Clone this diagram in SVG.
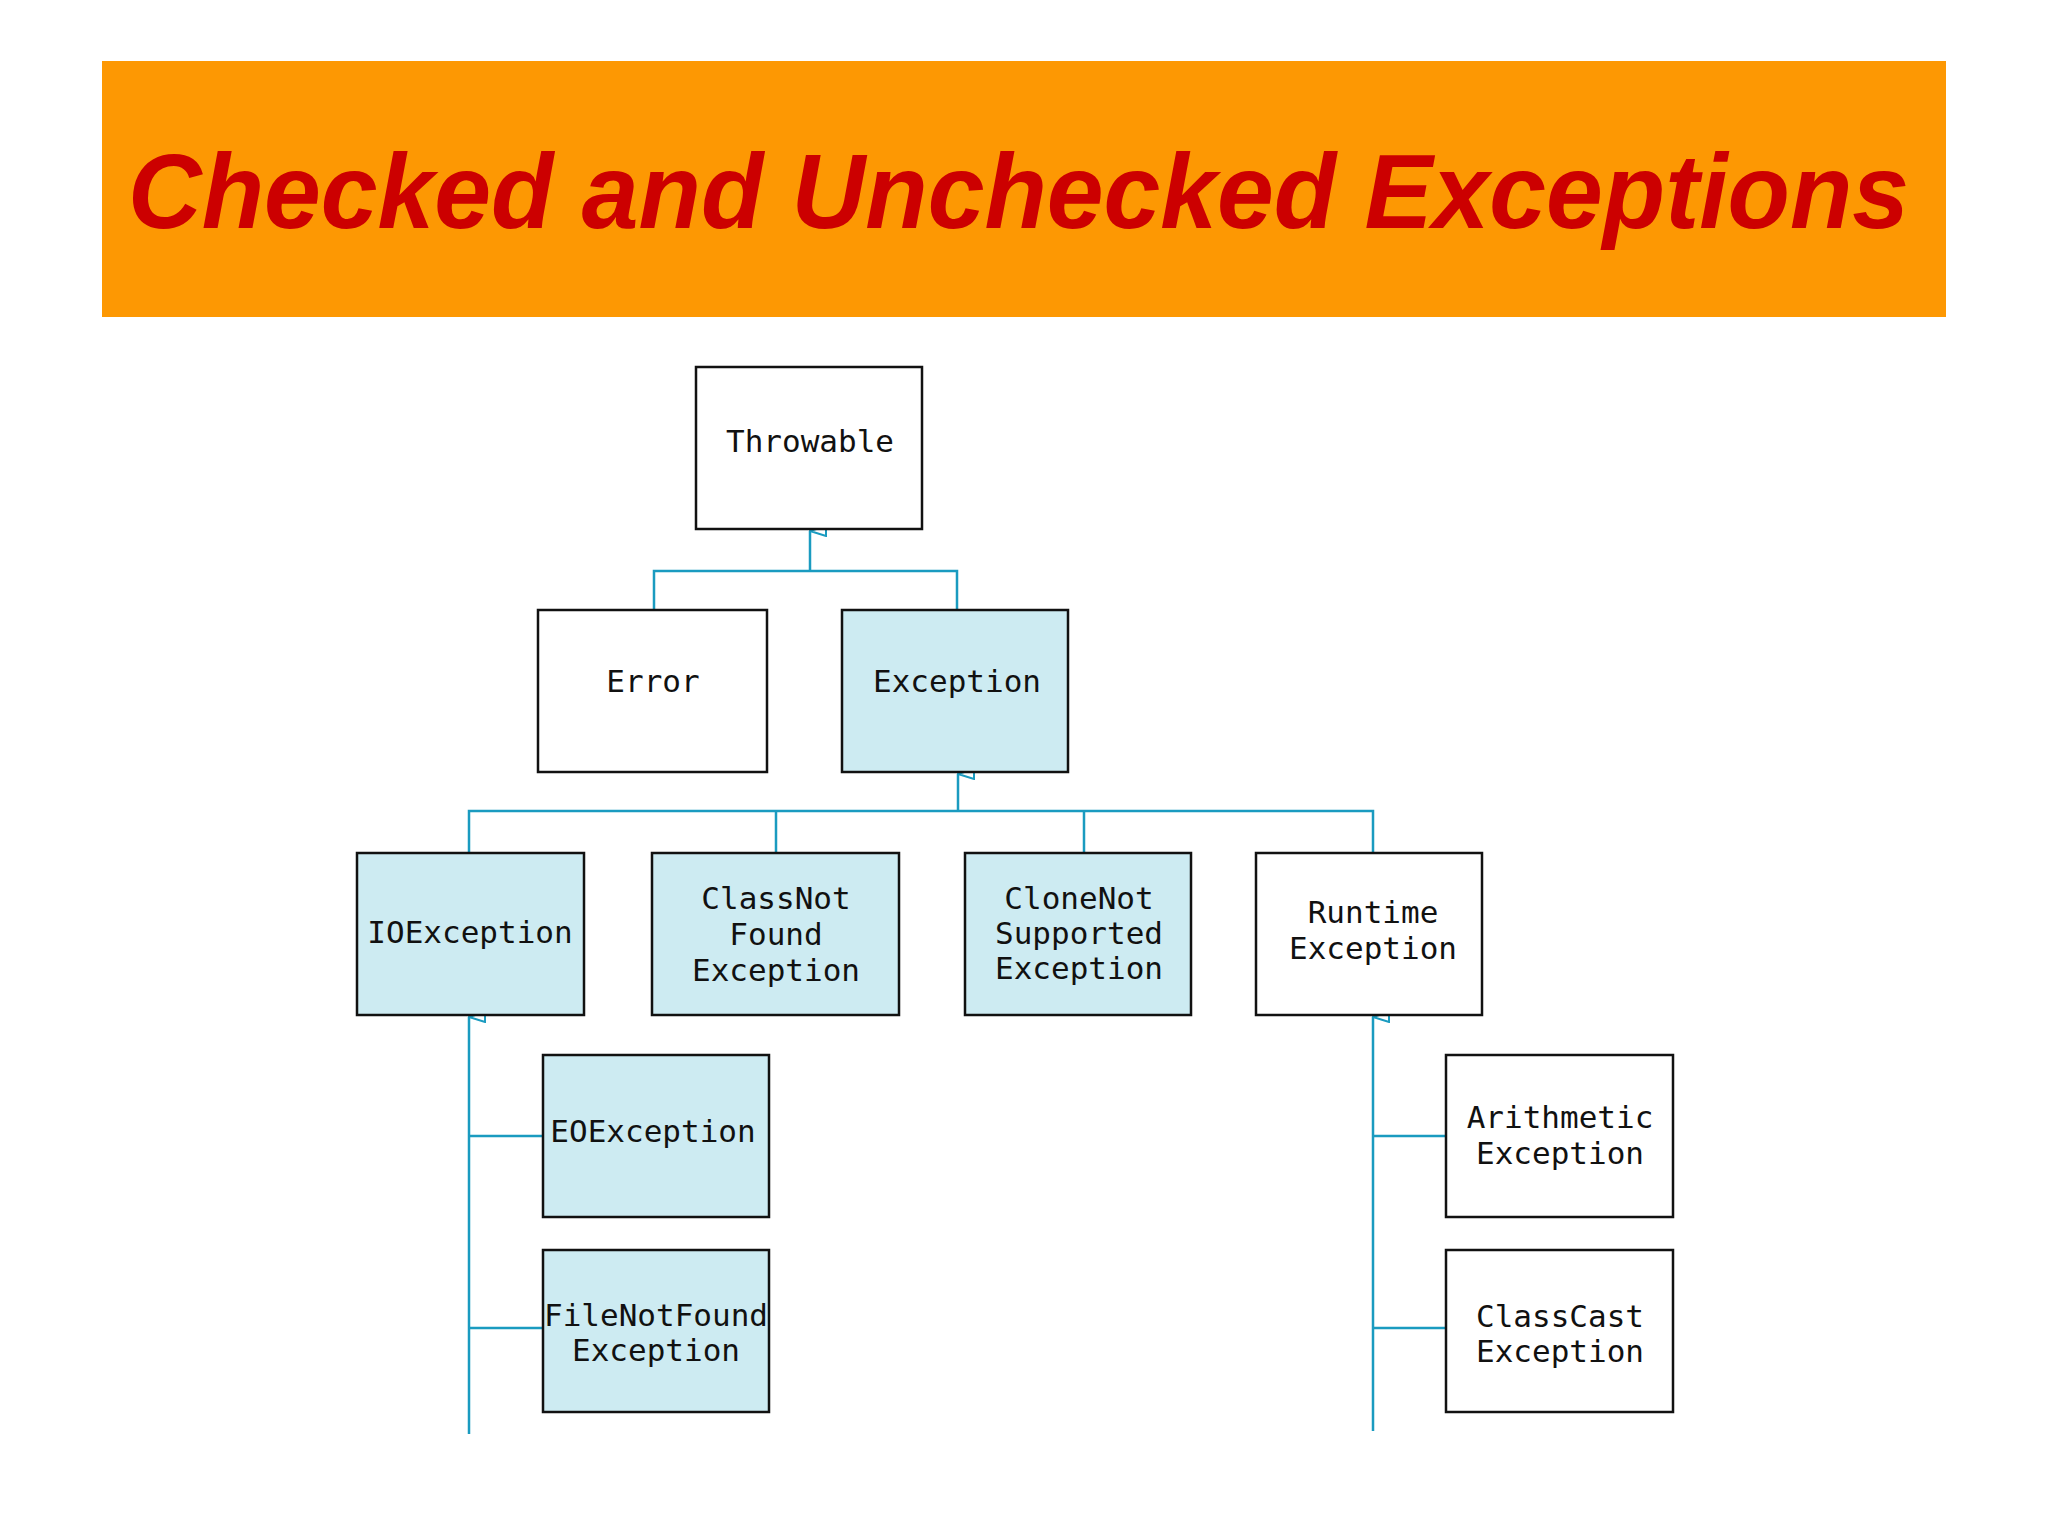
<svg xmlns="http://www.w3.org/2000/svg" width="2048" height="1536" viewBox="0 0 2048 1536">
<style>
.b{stroke:#111;stroke-width:2.5;fill:#fff}
.c{fill:#cdebf2}
.t{font-family:"DejaVu Sans Mono",monospace;font-size:31px;fill:#111;text-anchor:middle}
.l{stroke:#1a9bc0;stroke-width:2.5;fill:none}
</style>
<defs>
<marker id="a" viewBox="0 0 12 18" refX="6" refY="1" markerWidth="12" markerHeight="18" markerUnits="userSpaceOnUse" orient="auto-start-reverse">
<path d="M6,1 L11,17 L1,17 Z" fill="#fff" stroke="#1a9bc0" stroke-width="2"/>
</marker>
</defs>
<rect width="2048" height="1536" fill="#fff"/>
<rect x="102" y="61" width="1844" height="256" fill="#fd9803"/>
<text x="128" y="228" font-family="Liberation Sans,Arial,sans-serif" font-weight="bold" font-style="italic" font-size="106" fill="#cc0000" textLength="1781" lengthAdjust="spacingAndGlyphs">Checked and Unchecked Exceptions</text>
<g id="connectors">
<path class="l" d="M810,571 V531" marker-end="url(#a)"/>
<path class="l" d="M654,610 V571 H957 V610"/>
<path class="l" d="M958,811 V774" marker-end="url(#a)"/>
<path class="l" d="M469,853 V811 H1373 V853 M776,811 V853 M1084,811 V853"/>
<path class="l" d="M469,1434 V1017" marker-end="url(#a)"/>
<path class="l" d="M469,1136 H543 M469,1328 H543"/>
<path class="l" d="M1373,1431 V1017" marker-end="url(#a)"/>
<path class="l" d="M1373,1136 H1446 M1373,1328 H1446"/>
</g>
<g id="throwable"><rect class="b" x="696" y="367" width="226" height="162"/><text class="t" x="810" y="452">Throwable</text></g>
<g id="error"><rect class="b" x="538" y="610" width="229" height="162"/><text class="t" x="653" y="692">Error</text></g>
<g id="exception"><rect class="b c" x="842" y="610" width="226" height="162"/><text class="t" x="957" y="692">Exception</text></g>
<g id="ioexception"><rect class="b c" x="357" y="853" width="227" height="162"/><text class="t" x="470" y="943">IOException</text></g>
<g id="classnotfound"><rect class="b c" x="652" y="853" width="247" height="162"/><text class="t" x="776" y="909">ClassNot</text><text class="t" x="776" y="945">Found</text><text class="t" x="776" y="981">Exception</text></g>
<g id="clonenotsupported"><rect class="b c" x="965" y="853" width="226" height="162"/><text class="t" x="1079" y="909">CloneNot</text><text class="t" x="1079" y="944">Supported</text><text class="t" x="1079" y="979">Exception</text></g>
<g id="runtime"><rect class="b" x="1256" y="853" width="226" height="162"/><text class="t" x="1373" y="923">Runtime</text><text class="t" x="1373" y="959">Exception</text></g>
<g id="eoexception"><rect class="b c" x="543" y="1055" width="226" height="162"/><text class="t" x="653" y="1142">EOException</text></g>
<g id="filenotfound"><rect class="b c" x="543" y="1250" width="226" height="162"/><text class="t" x="656" y="1326">FileNotFound</text><text class="t" x="656" y="1361">Exception</text></g>
<g id="arithmetic"><rect class="b" x="1446" y="1055" width="227" height="162"/><text class="t" x="1560" y="1128">Arithmetic</text><text class="t" x="1560" y="1164">Exception</text></g>
<g id="classcast"><rect class="b" x="1446" y="1250" width="227" height="162"/><text class="t" x="1560" y="1327">ClassCast</text><text class="t" x="1560" y="1362">Exception</text></g>
</svg>
